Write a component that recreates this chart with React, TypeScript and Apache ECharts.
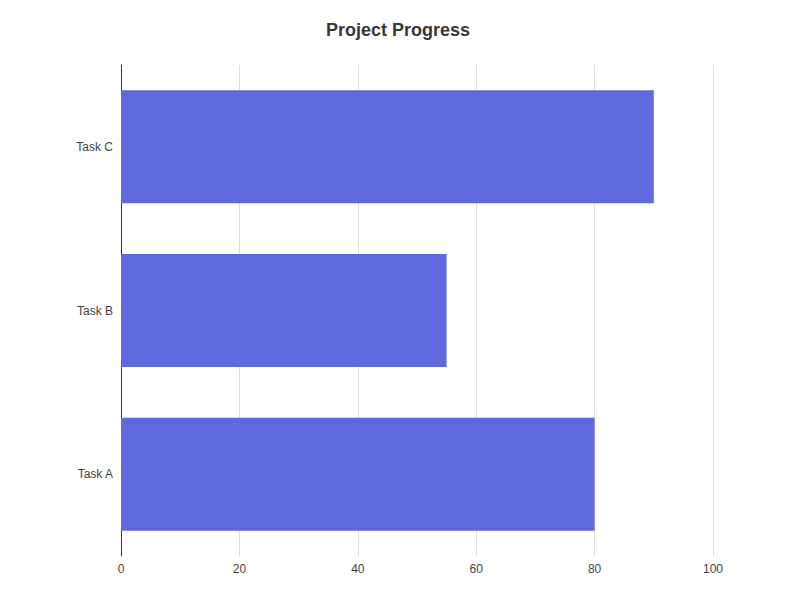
import React, { useEffect, useRef } from 'react';
import * as echarts from 'echarts';

const tasks = ['Task A', 'Task B', 'Task C'];
const progress = [80, 55, 90];
const xTicks = [0, 20, 40, 60, 80, 100];

const App: React.FC = () => {
  const chartRef = useRef<HTMLDivElement>(null);

  useEffect(() => {
    if (!chartRef.current) return;
    const chart = echarts.init(chartRef.current, undefined, { renderer: 'svg' });

    const option: echarts.EChartsOption = {
      animation: false,
      textStyle: { fontFamily: 'Liberation Sans, Arial, sans-serif' },
      title: {
        text: 'Project Progress',
        left: 393,
        textAlign: 'center',
        top: 16,
        textStyle: { fontSize: 18, fontWeight: 'bold', color: '#383838' },
      },
      grid: { left: 121, right: 73, top: 65, bottom: 52, containLabel: false },
      xAxis: {
        type: 'value',
        min: xTicks[0],
        max: xTicks[xTicks.length - 1],
        interval: 20,
        axisLine: { show: false },
        axisTick: { show: false },
        axisLabel: { color: '#444', fontSize: 12, margin: 7 },
        splitLine: { show: true, lineStyle: { color: '#ddd', width: 1 } },
      },
      yAxis: {
        type: 'category',
        data: tasks,
        axisLine: { show: true, lineStyle: { color: '#333', width: 1 } },
        axisTick: { show: false },
        axisLabel: { color: '#444', fontSize: 12, margin: 8 },
        splitLine: { show: false },
      },
      series: [
        {
          type: 'bar',
          data: progress,
          barCategoryGap: '31%',
          itemStyle: { color: '#6068DE' },
        },
      ],
    };

    chart.setOption(option);
    return () => {
      chart.dispose();
    };
  }, []);

  return (
    <div
      ref={chartRef}
      style={{ position: 'absolute', left: 0, top: 0, width: 786, height: 608 }}
    />
  );
};

export default App;
